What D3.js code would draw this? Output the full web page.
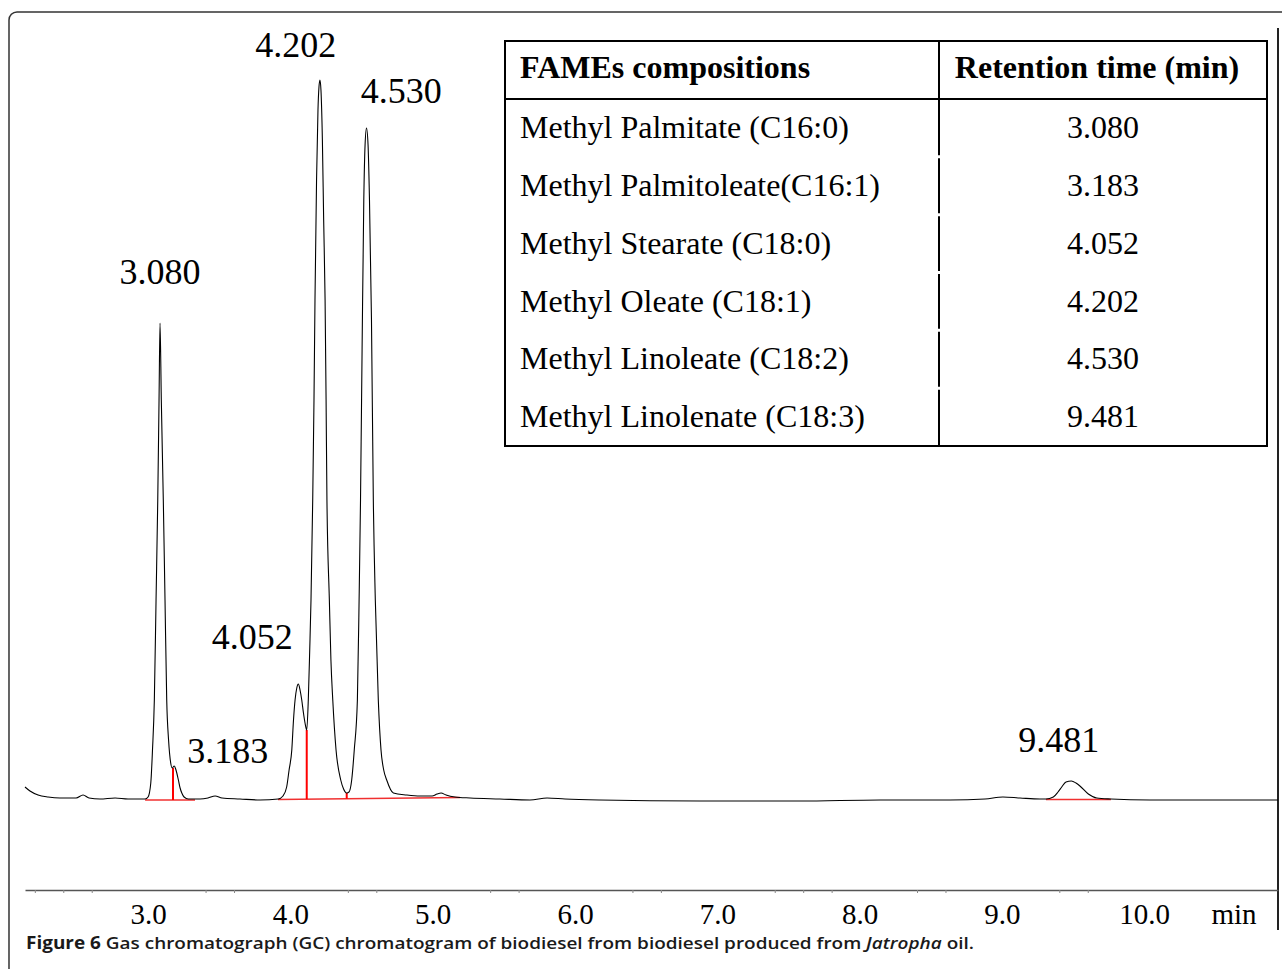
<!DOCTYPE html>
<html>
<head>
<meta charset="utf-8">
<script src="https://cdn.jsdelivr.net/npm/d3@7"></script>
<style>
  body { margin: 0; background: #fff; }
  svg { display: block; }
  .serif { font-family: 'Liberation Serif', 'Times New Roman', serif; fill: #000; }
</style>
</head>
<body>
<div class="chart"></div>
<script>
// run window (min)
const timeRange = [2.131, 10.937]

// detector trace: retention time (min) / signal (arbitrary units)
const signalTime = [
  2.131, 2.166, 2.223, 2.293, 2.377, 2.490, 2.539, 2.581, 2.658, 2.764, 2.855, 2.940,
  2.975, 2.996, 3.015, 3.027, 3.040, 3.052, 3.064, 3.073, 3.080, 3.089, 3.103, 3.115,
  3.127, 3.140, 3.155, 3.165, 3.180, 3.192, 3.209, 3.221, 3.233, 3.249, 3.279, 3.361,
  3.417, 3.467, 3.516, 3.642, 3.783,
  3.911, 3.944, 3.970, 3.987, 4.006, 4.018, 4.029, 4.041, 4.052, 4.064, 4.076, 4.088,
  4.099, 4.111, 4.122, 4.132, 4.141, 4.153, 4.162, 4.169, 4.180, 4.190, 4.197, 4.204,
  4.211, 4.221, 4.230, 4.240, 4.247, 4.253, 4.270, 4.281, 4.294, 4.317, 4.350, 4.370,
  4.392, 4.408, 4.427, 4.445, 4.467, 4.479, 4.489, 4.500, 4.512, 4.521, 4.531, 4.542,
  4.552, 4.566, 4.579, 4.593, 4.614, 4.633, 4.652, 4.673, 4.720, 4.814, 4.907, 4.992,
  5.027, 5.055, 5.090, 5.153, 5.259, 5.469, 5.680, 5.800, 5.926, 6.172, 6.875, 7.578,
  8.140, 8.632, 8.878, 9.004, 9.124, 9.264, 9.306, 9.358, 9.391, 9.417, 9.447, 9.485,
  9.517, 9.545, 9.604, 9.663, 9.763, 10.037, 10.389, 10.937
]
const signalValue = [
  13, 9, 5, 3, 2, 2, 5, 2, 1, 2, 1, 1,
  1, 3, 17, 50, 100, 200, 300, 400, 477, 400, 300, 200,
  100, 60, 37, 32, 34, 30, 20, 12, 7, 3, 1, 1,
  2, 4, 2, 1, 0,
  1, 4, 13, 30, 50, 80, 100, 112, 116, 110, 100, 87,
  77, 70, 100, 150, 200, 300, 400, 500, 620, 690, 713, 720,
  710, 660, 580, 500, 400, 300, 200, 140, 100, 50, 20, 11,
  7, 8, 20, 50, 100, 200, 300, 450, 600, 655, 672, 655,
  600, 480, 300, 200, 100, 50, 30, 20, 7, 5, 4, 4,
  6, 7, 5, 3, 2, 1, 0, 2, 1, 0, -1, -1,
  0, 0, 1, 3, 2, 1, 1, 3, 8, 13, 18, 19,
  17, 14, 6, 2, 1, 0, 0, 0
]

// integration marks (red): baselines and peak-split drop lines
const baseStart = [2.975, 3.909, 9.306]
const baseEnd = [3.326, 5.188, 9.763]
const baseStartValue = [0, 0.5, 0.5]
const baseEndValue = [0, 2.5, 0.5]
const dropTime = [3.171, 4.111, 4.392]
const dropValue = [32, 70, 7]

// peak labels
const peakTimes = ['3.080', '3.183', '4.052', '4.202', '4.530', '9.481']

// axis
const axisLabels = [3, 4, 5, 6, 7, 8, 9, 10]
const axisTicks = [2.2, 2.4, 2.6, 3.4, 3.6, 4.4, 4.6, 5.4, 5.6, 6.4, 6.6, 7.4, 7.6, 7.8, 8.4, 8.6, 9.4, 9.6]
const axisUnit = 'min'

// table
const tableHeader = ['FAMEs compositions', 'Retention time (min)']
const compounds = [
  'Methyl Palmitate (C16:0)',
  'Methyl Palmitoleate(C16:1)',
  'Methyl Stearate (C18:0)',
  'Methyl Oleate (C18:1)',
  'Methyl Linoleate (C18:2)',
  'Methyl Linolenate (C18:3)',
]
const retentionTimes = ['3.080', '3.183', '4.052', '4.202', '4.530', '9.481']

const captionBold = 'Figure 6'
const captionText = ' Gas chromatograph (GC) chromatogram of biodiesel from biodiesel produced from '
const captionItalic = 'Jatropha'
const captionEnd = ' oil.'

const width = 1282
const height = 969

// label placement relative to each peak (layout only)
const labelDx = [0, 53, -46, -24, 35, -12]
const labelY = [284, 763, 649, 57, 103, 752]

const svg = d3
  .select('.chart')
  .append('svg')
  .attr('width', width)
  .attr('height', height)

svg.append('rect').attr('width', width).attr('height', height).attr('fill', '#fff')

// outer figure frame (rounded corner, runs off the page right and bottom)
svg
  .append('rect')
  .attr('x', 9)
  .attr('y', 12)
  .attr('width', 1320)
  .attr('height', 1000)
  .attr('rx', 8)
  .attr('fill', 'none')
  .style('stroke', '#333')
  .style('stroke-width', 1.5)

let x = d3.scaleLinear().domain(timeRange).range([25, 1278])
let y = d3.scaleLinear().domain([0, 720]).range([800, 80])

// right border of the plot
svg
  .append('line')
  .attr('x1', 1278)
  .attr('x2', 1278)
  .attr('y1', 28)
  .attr('y2', 930)
  .style('stroke', '#222')
  .style('stroke-width', 2)

// x axis
svg
  .append('g')
  .attr('transform', 'translate(0,890)')
  .attr('class', 'x-axis')
  .call(d3.axisBottom(x).tickValues(axisTicks).tickSize(3).tickSizeOuter(0).tickFormat(''))
  .call((g) => g.select('.domain').style('stroke', '#555').style('stroke-width', 1.6))
  .call((g) => g.selectAll('.tick line').style('stroke', '#888').style('stroke-width', 1))

svg
  .selectAll('.x-label')
  .data(axisLabels)
  .enter()
  .append('text')
  .attr('class', 'x-label serif')
  .attr('x', (d) => x(d))
  .attr('y', 924)
  .attr('text-anchor', 'middle')
  .style('font-size', '29px')
  .text((d) => d3.format('.1f')(d))

svg
  .append('text')
  .attr('class', 'serif')
  .attr('x', 1234)
  .attr('y', 924)
  .attr('text-anchor', 'middle')
  .style('font-size', '29px')
  .text(axisUnit)

// red integration baselines
svg
  .selectAll('.base')
  .data(baseStart)
  .enter()
  .append('line')
  .attr('x1', (d) => x(d))
  .attr('x2', (d, i) => x(baseEnd[i]))
  .attr('y1', (d, i) => y(baseStartValue[i]))
  .attr('y2', (d, i) => y(baseEndValue[i]))
  .style('stroke', '#f03030')
  .style('stroke-width', 1.5)

// drop lines down to the baseline under them
function baseAt(t) {
  for (let i = 0; i < baseStart.length; i++) {
    if (t >= baseStart[i] && t <= baseEnd[i]) {
      let f = (t - baseStart[i]) / (baseEnd[i] - baseStart[i])
      return baseStartValue[i] + f * (baseEndValue[i] - baseStartValue[i])
    }
  }
  return 0
}
svg
  .selectAll('.drop')
  .data(dropTime)
  .enter()
  .append('line')
  .attr('x1', (d) => x(d))
  .attr('x2', (d) => x(d))
  .attr('y1', (d) => y(baseAt(d)))
  .attr('y2', (d, i) => y(dropValue[i]))
  .style('stroke', '#ff0000')
  .style('stroke-width', 2)

// trace
const trace = signalTime.map((t, i) => [t, signalValue[i]])
svg
  .append('path')
  .datum(trace)
  .attr('fill', 'none')
  .style('stroke', '#000')
  .style('stroke-width', 1.1)
  .attr(
    'd',
    d3
      .line()
      .x((d) => x(d[0]))
      .y((d) => y(d[1]))
      .curve(d3.curveMonotoneX)
  )

// peak labels
svg
  .selectAll('.peak-label')
  .data(peakTimes)
  .enter()
  .append('text')
  .attr('class', 'peak-label serif')
  .attr('x', (d, i) => x(+d) + labelDx[i])
  .attr('y', (d, i) => labelY[i])
  .attr('text-anchor', 'middle')
  .style('font-size', '36px')
  .text((d) => d)

// table
const table = svg.append('g').attr('class', 'table')
const tLeft = 505
const tRight = 1267
const tTop = 41
const tHead = 99
const tBottom = 446
const tCol = 939

let rows = d3.scaleBand().domain(d3.range(compounds.length)).range([tHead, tBottom])

table
  .append('rect')
  .attr('x', tLeft)
  .attr('y', tTop)
  .attr('width', tRight - tLeft)
  .attr('height', tBottom - tTop)
  .attr('fill', '#fff')
  .style('stroke', '#000')
  .style('stroke-width', 2)

table
  .append('line')
  .attr('x1', tLeft)
  .attr('x2', tRight)
  .attr('y1', tHead)
  .attr('y2', tHead)
  .style('stroke', '#000')
  .style('stroke-width', 2)

// column divider, drawn row by row (the original has small gaps)
table
  .append('line')
  .attr('x1', tCol)
  .attr('x2', tCol)
  .attr('y1', tTop)
  .attr('y2', tHead)
  .style('stroke', '#000')
  .style('stroke-width', 2)
table
  .selectAll('.col-seg')
  .data(compounds)
  .enter()
  .append('line')
  .attr('x1', tCol)
  .attr('x2', tCol)
  .attr('y1', (d, i) => rows(i) + (i === 0 ? 0 : 1.5))
  .attr('y2', (d, i) => rows(i) + rows.bandwidth() - (i === compounds.length - 1 ? 0 : 1.5))
  .style('stroke', '#000')
  .style('stroke-width', 2)

table
  .append('text')
  .attr('class', 'serif')
  .attr('x', 520)
  .attr('y', 78)
  .style('font-size', '32px')
  .style('font-weight', 'bold')
  .text(tableHeader[0])

table
  .append('text')
  .attr('class', 'serif')
  .attr('x', 1097)
  .attr('y', 78)
  .attr('text-anchor', 'middle')
  .style('font-size', '32px')
  .style('font-weight', 'bold')
  .text(tableHeader[1])

table
  .selectAll('.compound')
  .data(compounds)
  .enter()
  .append('text')
  .attr('class', 'compound serif')
  .attr('x', 520)
  .attr('y', (d, i) => rows(i) + 39)
  .style('font-size', '32px')
  .text((d) => d)

table
  .selectAll('.rt')
  .data(retentionTimes)
  .enter()
  .append('text')
  .attr('class', 'rt serif')
  .attr('x', 1103)
  .attr('y', (d, i) => rows(i) + 39)
  .attr('text-anchor', 'middle')
  .style('font-size', '32px')
  .text((d) => d)

// caption
const caption = svg
  .append('text')
  .attr('x', 26)
  .attr('y', 949)
  .attr('textLength', 948)
  .attr('lengthAdjust', 'spacingAndGlyphs')
  .style('font-family', "'Open Sans', 'Noto Sans', sans-serif")
  .style('font-size', '17px')
  .style('font-weight', 600)
  .style('fill', '#1a1a1a')
caption.append('tspan').style('font-weight', 'bold').text(captionBold)
caption.append('tspan').text(captionText)
caption.append('tspan').style('font-style', 'italic').text(captionItalic)
caption.append('tspan').text(captionEnd)
</script>
</body>
</html>
